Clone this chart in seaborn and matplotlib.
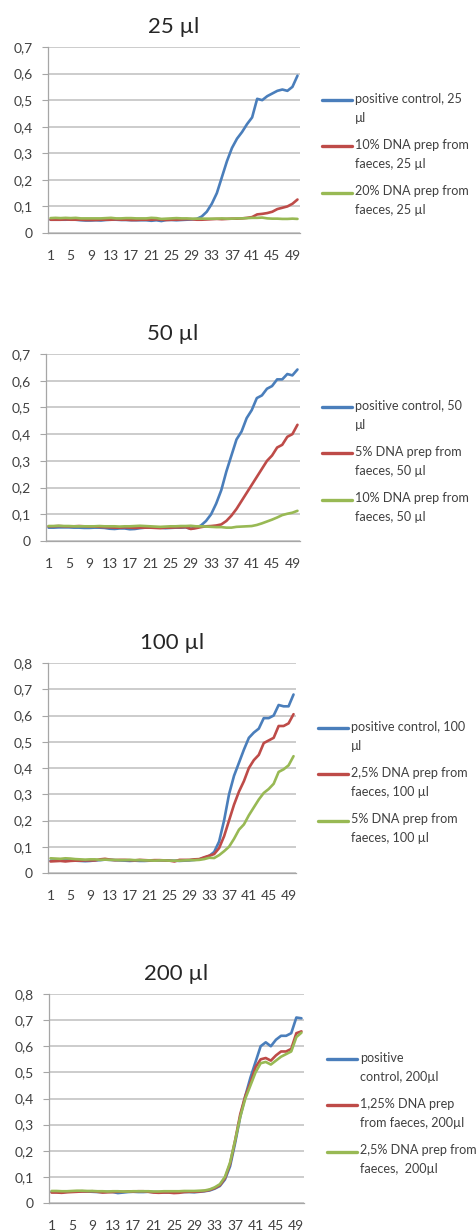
import matplotlib
matplotlib.use("Agg")
import matplotlib.pyplot as plt
from matplotlib.legend_handler import HandlerLine2D
from matplotlib.ticker import FixedLocator, FuncFormatter
import numpy as np
import pandas as pd
import seaborn as sns

cycles = list(range(1, 51))
x_tick_labels = [1, 5, 9, 13, 17, 21, 25, 29, 33, 37, 41, 45, 49]

# 25 µl
labels_25 = ["positive control, 25\nµl", "10% DNA prep from\nfaeces, 25 µl", "20% DNA prep from\nfaeces, 25 µl"]
pos_25 = [0.050, 0.050, 0.050, 0.050, 0.051, 0.050, 0.048, 0.047, 0.047, 0.048,
          0.047, 0.049, 0.050, 0.050, 0.049, 0.049, 0.048, 0.048, 0.048, 0.048,
          0.046, 0.048, 0.045, 0.049, 0.049, 0.048, 0.049, 0.050, 0.051, 0.053,
          0.062, 0.080, 0.110, 0.150, 0.210, 0.270, 0.320, 0.355, 0.380, 0.410,
          0.435, 0.505, 0.500, 0.515, 0.525, 0.535, 0.540, 0.535, 0.550, 0.592]
red_25 = [0.050, 0.050, 0.050, 0.051, 0.050, 0.050, 0.050, 0.049, 0.049, 0.049,
          0.050, 0.050, 0.050, 0.051, 0.050, 0.050, 0.049, 0.049, 0.050, 0.050,
          0.050, 0.051, 0.050, 0.049, 0.050, 0.050, 0.051, 0.052, 0.052, 0.050,
          0.050, 0.051, 0.052, 0.053, 0.052, 0.053, 0.054, 0.054, 0.055, 0.057,
          0.060, 0.070, 0.072, 0.075, 0.080, 0.090, 0.095, 0.100, 0.110, 0.126]
green_25 = [0.056, 0.057, 0.056, 0.057, 0.056, 0.057, 0.055, 0.055, 0.055, 0.055,
            0.055, 0.056, 0.057, 0.055, 0.055, 0.056, 0.056, 0.055, 0.055, 0.055,
            0.057, 0.056, 0.053, 0.054, 0.055, 0.056, 0.055, 0.055, 0.054, 0.054,
            0.054, 0.054, 0.054, 0.054, 0.055, 0.054, 0.054, 0.055, 0.055, 0.056,
            0.057, 0.057, 0.058, 0.055, 0.054, 0.054, 0.053, 0.053, 0.054, 0.053]

# 50 µl
labels_50 = ["positive control, 50\nµl", "5% DNA prep from\nfaeces, 50 µl", "10% DNA prep from\nfaeces, 50 µl"]
pos_50 = [0.050, 0.050, 0.051, 0.051, 0.051, 0.050, 0.050, 0.049, 0.049, 0.050,
          0.050, 0.049, 0.046, 0.045, 0.047, 0.047, 0.044, 0.045, 0.048, 0.050,
          0.050, 0.050, 0.050, 0.048, 0.049, 0.050, 0.050, 0.051, 0.046, 0.050,
          0.058, 0.075, 0.100, 0.140, 0.190, 0.260, 0.320, 0.380, 0.410, 0.460,
          0.490, 0.535, 0.545, 0.570, 0.580, 0.605, 0.605, 0.625, 0.620, 0.642]
red_50 = [0.055, 0.055, 0.056, 0.055, 0.055, 0.055, 0.056, 0.055, 0.054, 0.054,
          0.053, 0.052, 0.051, 0.050, 0.050, 0.051, 0.050, 0.049, 0.050, 0.050,
          0.050, 0.049, 0.048, 0.050, 0.050, 0.051, 0.051, 0.052, 0.045, 0.048,
          0.052, 0.055, 0.056, 0.058, 0.062, 0.075, 0.095, 0.120, 0.150, 0.180,
          0.210, 0.240, 0.270, 0.300, 0.320, 0.350, 0.360, 0.390, 0.400, 0.435]
green_50 = [0.056, 0.056, 0.057, 0.056, 0.056, 0.055, 0.055, 0.055, 0.055, 0.055,
            0.056, 0.055, 0.055, 0.055, 0.054, 0.055, 0.055, 0.056, 0.057, 0.056,
            0.055, 0.054, 0.053, 0.054, 0.055, 0.055, 0.056, 0.056, 0.057, 0.055,
            0.055, 0.054, 0.053, 0.052, 0.052, 0.050, 0.050, 0.053, 0.054, 0.055,
            0.056, 0.060, 0.066, 0.073, 0.080, 0.088, 0.097, 0.102, 0.106, 0.113]

# 100 µl
labels_100 = ["positive control, 100\nµl", "2,5% DNA prep from\nfaeces, 100 µl", "5% DNA prep from\nfaeces, 100 µl"]
pos_100 = [0.047, 0.048, 0.049, 0.048, 0.049, 0.047, 0.046, 0.045, 0.046, 0.048,
           0.049, 0.051, 0.050, 0.049, 0.048, 0.047, 0.046, 0.047, 0.046, 0.046,
           0.047, 0.047, 0.048, 0.048, 0.047, 0.047, 0.046, 0.047, 0.048, 0.050,
           0.052, 0.058, 0.065, 0.080, 0.120, 0.200, 0.300, 0.370, 0.420, 0.470,
           0.515, 0.535, 0.550, 0.590, 0.590, 0.600, 0.640, 0.635, 0.635, 0.680]
red_100 = [0.044, 0.045, 0.046, 0.044, 0.046, 0.047, 0.047, 0.048, 0.048, 0.048,
           0.052, 0.054, 0.051, 0.049, 0.050, 0.050, 0.049, 0.048, 0.050, 0.049,
           0.048, 0.049, 0.049, 0.048, 0.047, 0.044, 0.050, 0.050, 0.050, 0.052,
           0.053, 0.060, 0.066, 0.072, 0.095, 0.140, 0.200, 0.260, 0.310, 0.350,
           0.400, 0.430, 0.450, 0.495, 0.505, 0.515, 0.560, 0.560, 0.570, 0.605]
green_100 = [0.056, 0.055, 0.054, 0.056, 0.055, 0.053, 0.052, 0.051, 0.052, 0.052,
             0.050, 0.051, 0.050, 0.050, 0.049, 0.049, 0.050, 0.049, 0.049, 0.048,
             0.048, 0.047, 0.048, 0.048, 0.047, 0.047, 0.047, 0.048, 0.049, 0.049,
             0.050, 0.053, 0.058, 0.057, 0.068, 0.083, 0.100, 0.130, 0.165, 0.185,
             0.220, 0.250, 0.280, 0.305, 0.320, 0.340, 0.385, 0.395, 0.410, 0.445]

# 200 µl
labels_200 = ["positive\ncontrol, 200µl", "1,25% DNA prep\nfrom faeces, 200µl", "2,5% DNA prep from\nfaeces,  200µl"]
pos_200 = [0.043, 0.043, 0.042, 0.043, 0.044, 0.044, 0.045, 0.044, 0.043, 0.042,
           0.042, 0.043, 0.042, 0.038, 0.040, 0.042, 0.043, 0.042, 0.042, 0.043,
           0.042, 0.042, 0.041, 0.041, 0.041, 0.042, 0.042, 0.042, 0.041, 0.043,
           0.045, 0.048, 0.055, 0.065, 0.090, 0.140, 0.230, 0.330, 0.410, 0.480,
           0.540, 0.600, 0.615, 0.600, 0.625, 0.640, 0.640, 0.650, 0.710, 0.707]
red_200 = [0.040, 0.040, 0.039, 0.041, 0.042, 0.043, 0.044, 0.044, 0.045, 0.043,
           0.040, 0.041, 0.042, 0.043, 0.043, 0.044, 0.044, 0.045, 0.045, 0.043,
           0.040, 0.039, 0.040, 0.040, 0.038, 0.039, 0.042, 0.043, 0.043, 0.044,
           0.046, 0.050, 0.057, 0.068, 0.095, 0.150, 0.240, 0.340, 0.410, 0.460,
           0.520, 0.550, 0.555, 0.545, 0.565, 0.580, 0.580, 0.590, 0.650, 0.657]
green_200 = [0.046, 0.046, 0.045, 0.045, 0.046, 0.047, 0.047, 0.046, 0.046, 0.045,
             0.045, 0.044, 0.045, 0.045, 0.044, 0.044, 0.045, 0.045, 0.045, 0.045,
             0.044, 0.044, 0.045, 0.045, 0.045, 0.045, 0.046, 0.046, 0.046, 0.047,
             0.048, 0.052, 0.060, 0.072, 0.100, 0.155, 0.240, 0.330, 0.400, 0.450,
             0.500, 0.535, 0.540, 0.530, 0.545, 0.560, 0.570, 0.580, 0.635, 0.652]

colors = ["#4A7EBB", "#BE4B48", "#98B954"]
W, H = 477, 1231

# title, y max, legend labels, series, axes box in px (left, top, right, bottom), legend anchor px
panels = [
    ("25 µl", 0.7, labels_25, [pos_25, red_25, green_25], (48, 47, 300, 233), (322, 93)),
    ("50 µl", 0.7, labels_50, [pos_50, red_50, green_50], (46, 354, 300, 541), (322, 400)),
    ("100 µl", 0.8, labels_100, [pos_100, red_100, green_100], (48, 663, 296, 873), (318, 721)),
    ("200 µl", 0.8, labels_200, [pos_200, red_200, green_200], (49, 994, 304, 1203), (327, 1052)),
]


class FirstLineHandler(HandlerLine2D):
    # excel puts the legend key next to the first line of a wrapped label
    def create_artists(self, legend, orig_handle, xdescent, ydescent, width, height, fontsize, trans):
        artists = super().create_artists(legend, orig_handle, xdescent, ydescent, width, height, fontsize, trans)
        for a in artists:
            a.set_ydata(np.asarray(a.get_ydata(), dtype=float) + 6.4)
        return artists


def comma_fmt(v, pos):
    if abs(v) < 1e-9:
        return "0"
    return f"{v:.1f}".replace(".", ",")


sns.set_style("white")
plt.rcParams["font.family"] = ["Lato", "DejaVu Sans"]

fig = plt.figure(figsize=(W / 100, H / 100), dpi=100)

for title, ymax, labels, series, (l, t, r, b), (lx, ly) in panels:
    ax = fig.add_axes([l / W, 1 - b / H, (r - l) / W, (b - t) / H])
    df = pd.DataFrame({
        "cycle": cycles * 3,
        "value": series[0] + series[1] + series[2],
        "series": [labels[0]] * 50 + [labels[1]] * 50 + [labels[2]] * 50,
    })
    sns.lineplot(data=df, x="cycle", y="value", hue="series", hue_order=labels,
                 palette=colors, linewidth=1.9, legend=False, ax=ax)

    ax.set_xlim(0.5, 50.5)
    ax.set_ylim(0, ymax)
    ax.set_xlabel("")
    ax.set_ylabel("")
    ax.set_title(title, fontsize=16, pad=10)

    ax.yaxis.set_major_locator(FixedLocator(np.arange(0, ymax + 0.01, 0.1)))
    ax.yaxis.set_major_formatter(FuncFormatter(comma_fmt))
    ax.grid(axis="y", color="#BFBFBF", linewidth=1.1)
    ax.set_axisbelow(True)

    ax.xaxis.set_major_locator(FixedLocator(x_tick_labels))
    ax.xaxis.set_minor_locator(FixedLocator(np.arange(0.5, 51, 1)))
    ax.tick_params(axis="x", which="major", length=0, pad=12, labelsize=10, labelcolor="#404040")
    ax.tick_params(axis="x", which="minor", length=4, width=0.8, color="#A6A6A6", direction="out")
    ax.tick_params(axis="y", which="major", length=4, width=0.8, color="#A6A6A6", pad=7,
                   labelsize=10, labelcolor="#404040", left=True)

    for side in ["top", "right"]:
        ax.spines[side].set_visible(False)
    for side in ["left", "bottom"]:
        ax.spines[side].set_color("#A6A6A6")
        ax.spines[side].set_linewidth(0.9)

    leg = ax.legend(ax.get_lines()[:3], labels, loc="upper left",
                    bbox_to_anchor=(lx / W, 1 - ly / H), bbox_transform=fig.transFigure,
                    frameon=False, borderpad=0, borderaxespad=0, fontsize=9.1,
                    handlelength=2.4, handletextpad=0.2, labelspacing=1.2,
                    handler_map={plt.Line2D: FirstLineHandler()})
    for txt in leg.get_texts():
        txt.set_linespacing(1.7)
        txt.set_color("#404040")
    for ln in leg.get_lines():
        ln.set_linewidth(2.4)

fig.savefig("out.png", dpi=100)
